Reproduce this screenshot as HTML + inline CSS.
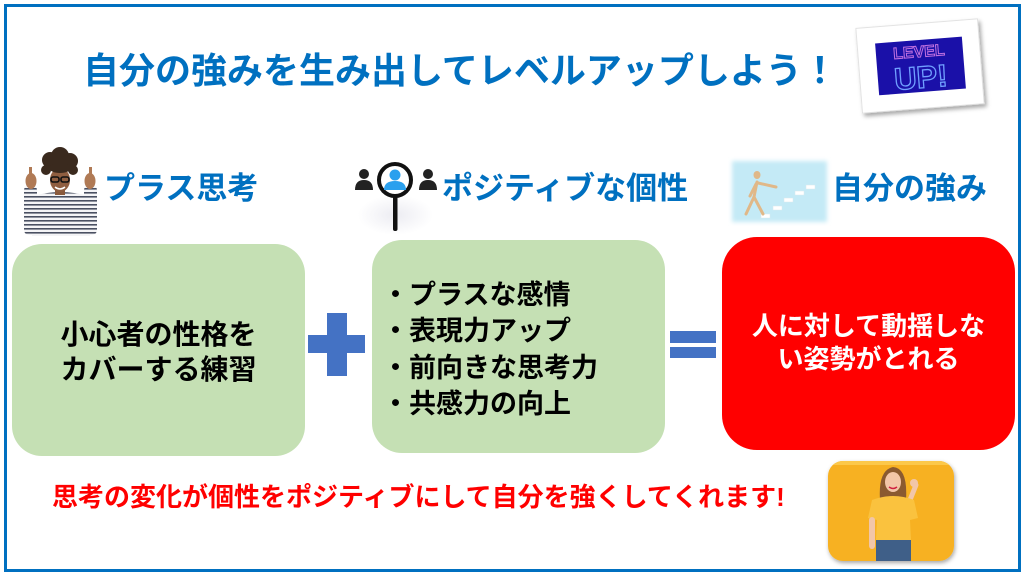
<!DOCTYPE html>
<html><head><meta charset="utf-8">
<style>
html,body{margin:0;padding:0;}
body{width:1024px;height:572px;position:relative;overflow:hidden;background:#fff;font-family:"Liberation Sans","Noto Sans CJK JP",sans-serif;font-weight:bold;}
.abs{position:absolute;}
.frame{left:4px;top:4px;width:1011px;height:562px;border:3px solid #0070C0;box-sizing:content-box;}
.title{top:51px;height:40px;line-height:40px;font-size:36px;color:#0070C0;white-space:nowrap;}
.h{font-size:31px;line-height:31px;color:#0070C0;white-space:nowrap;top:173px;}
.box{border-radius:30px;}
.t{white-space:nowrap;}
</style></head><body>
<div class="abs frame"></div>

<div class="abs title" style="left:83px;width:760px;">自分の強みを生み出してレベルアップしよう！</div>

<!-- LEVEL UP card -->
<svg class="abs" style="left:845px;top:10px" width="155" height="115" viewBox="845 10 155 115">
  <defs>
    <filter id="sh" x="-20%" y="-20%" width="140%" height="140%"><feDropShadow dx="2" dy="3" stdDeviation="2" flood-color="#000" flood-opacity="0.35"/></filter>
  </defs>
  <g transform="rotate(-4.5 920 66)">
    <rect x="859" y="23.5" width="122" height="85" fill="#fff" stroke="#ddd" stroke-width="0.8" filter="url(#sh)"/>
    <rect x="877" y="40" width="87" height="52" fill="#1a10a8"/>
    <text x="920" y="57" font-family="Liberation Sans" font-size="16" font-weight="bold" text-anchor="middle" fill="none" stroke="#c070e0" stroke-width="1">LEVEL</text>
    <text x="920" y="88" font-family="Liberation Sans" font-size="31" font-weight="bold" text-anchor="middle" fill="none" stroke="#70a0ff" stroke-width="1.3">UP!</text>
  </g>
</svg>

<!-- Person crossed fingers -->
<svg class="abs" style="left:18px;top:147px" width="85" height="95" viewBox="18 147 85 95">
  <defs>
    <pattern id="stripe" width="5" height="4" patternUnits="userSpaceOnUse"><rect width="5" height="4" fill="#f4f4f6"/><rect width="5" height="1.6" fill="#4a5062"/></pattern>
  </defs>
  <!-- arms -->
  <rect x="24" y="185" width="13" height="50" rx="5" fill="url(#stripe)"/>
  <rect x="84" y="185" width="13" height="50" rx="5" fill="url(#stripe)"/>
  <!-- hands -->
  <ellipse cx="31" cy="181" rx="5.5" ry="8" fill="#b07a55"/>
  <rect x="29" y="167" width="3" height="11" fill="#b07a55"/>
  <ellipse cx="90" cy="181" rx="5.5" ry="8" fill="#b07a55"/>
  <rect x="89" y="167" width="3" height="11" fill="#b07a55"/>
  <!-- body -->
  <path d="M34 196 Q60 188 88 196 L90 236 L32 236 Z" fill="url(#stripe)"/>
  <!-- neck/face -->
  <rect x="55" y="187" width="10" height="8" fill="#8a5a3c"/>
  <ellipse cx="60" cy="180" rx="10" ry="12" fill="#8f5e40"/>
  <!-- hair -->
  <circle cx="50" cy="160" r="8" fill="#3a2a1e"/>
  <circle cx="60" cy="156" r="9" fill="#3a2a1e"/>
  <circle cx="70" cy="161" r="8" fill="#3a2a1e"/>
  <circle cx="46" cy="170" r="5" fill="#3a2a1e"/>
  <circle cx="73" cy="170" r="5" fill="#3a2a1e"/>
  <ellipse cx="60" cy="168" rx="11" ry="5" fill="#3a2a1e"/>
  <!-- glasses -->
  <rect x="51" y="177" width="8" height="5" rx="2" fill="none" stroke="#111" stroke-width="1.6"/>
  <rect x="61" y="177" width="8" height="5" rx="2" fill="none" stroke="#111" stroke-width="1.6"/>
  <path d="M55 187 Q60 191 65 187" stroke="#fff" stroke-width="1.5" fill="none"/>
</svg>
<div class="abs h" style="left:104px;">プラス思考</div>

<!-- Magnifier icon -->
<svg class="abs" style="left:350px;top:158px" width="92" height="80" viewBox="350 158 92 80">
  <defs>
    <radialGradient id="glow" cx="50%" cy="50%" r="50%"><stop offset="0" stop-color="#ececf2"/><stop offset="1" stop-color="#fff"/></radialGradient>
  </defs>
  <rect x="358" y="195" width="75" height="40" fill="url(#glow)"/>
  <circle cx="364" cy="174" r="5" fill="#222"/>
  <path d="M355 190 Q355 180 364 180 Q373 180 373 190 Z" fill="#222"/>
  <circle cx="428" cy="174" r="5" fill="#222"/>
  <path d="M419 190 Q419 180 428 180 Q437 180 437 190 Z" fill="#222"/>
  <rect x="393" y="196" width="4.5" height="35" rx="2" fill="#111"/>
  <circle cx="395" cy="180" r="16" fill="#fff" stroke="#111" stroke-width="4"/>
  <circle cx="395" cy="175" r="5.5" fill="#2aa0ee"/>
  <path d="M384 190 Q384 181 395 181 Q406 181 406 190 Z" fill="#2aa0ee"/>
</svg>
<div class="abs h" style="left:442px;">ポジティブな個性</div>

<!-- Stairs image -->
<svg class="abs" style="left:728px;top:156px" width="104" height="70" viewBox="728 156 104 70">
  <defs>
    <filter id="blur"><feGaussianBlur stdDeviation="2"/></filter>
  </defs>
  <rect x="732" y="161" width="95" height="61" fill="#c4eaf6" filter="url(#blur)"/>
  <g fill="#fff" stroke="#d8e8ee" stroke-width="0.5">
    <rect x="761" y="214" width="9" height="4"/>
    <rect x="773" y="206" width="9" height="4"/>
    <rect x="784" y="198" width="9" height="4"/>
    <rect x="795" y="191" width="9" height="4"/>
    <rect x="806" y="185" width="9" height="4"/>
  </g>
  <g stroke="#e0b888" stroke-width="3" stroke-linecap="round" fill="none">
    <line x1="757" y1="182" x2="754" y2="197"/>
    <line x1="754" y1="197" x2="746" y2="214"/>
    <line x1="754" y1="197" x2="763" y2="214"/>
    <line x1="758" y1="183" x2="776" y2="187"/>
    <line x1="756" y1="184" x2="750" y2="196"/>
  </g>
  <ellipse cx="757" cy="175" rx="3.5" ry="4" fill="#e0b888"/>
</svg>
<div class="abs h" style="left:832px;">自分の強み</div>

<!-- Box 1 -->
<div class="abs box" style="left:12px;top:244px;width:293px;height:212px;background:#C5E0B4;"></div>
<div class="abs t" style="left:12px;top:317px;width:293px;text-align:center;font-size:28px;line-height:35px;color:#000;">小心者の性格を<br>カバーする練習</div>

<!-- Plus -->
<div class="abs" style="left:327px;top:313px;width:20px;height:63px;background:#4472C4;"></div>
<div class="abs" style="left:308px;top:335px;width:57px;height:18px;background:#4472C4;"></div>

<!-- Box 2 -->
<div class="abs box" style="left:372px;top:240px;width:293px;height:213px;background:#C5E0B4;"></div>
<div class="abs t" style="left:382px;top:277px;font-size:27px;line-height:36.3px;color:#000;">・プラスな感情<br>・表現力アップ<br>・前向きな思考力<br>・共感力の向上</div>

<!-- Equals -->
<div class="abs" style="left:670px;top:331px;width:46px;height:12px;background:#4472C4;"></div>
<div class="abs" style="left:670px;top:347px;width:46px;height:11px;background:#4472C4;"></div>

<!-- Red box -->
<div class="abs" style="left:722px;top:237px;width:293px;height:213px;background:#FF0000;border-radius:35px;"></div>
<div class="abs t" style="left:722px;top:310px;width:293px;text-align:center;font-size:26px;line-height:33px;color:#fff;">人に対して動揺しな<br>い姿勢がとれる</div>

<!-- Bottom text -->
<div class="abs t" style="left:52px;top:483px;font-size:26px;line-height:28px;color:#FF0000;">思考の変化が個性をポジティブにして自分を強くしてくれます!</div>

<!-- Woman image -->
<svg class="abs" style="left:820px;top:455px" width="145" height="115" viewBox="820 455 145 115">
  <defs>
    <filter id="sh2" x="-20%" y="-20%" width="140%" height="140%"><feDropShadow dx="1" dy="2" stdDeviation="2" flood-color="#000" flood-opacity="0.35"/></filter>
    <clipPath id="cp"><rect x="828" y="461" width="126" height="100" rx="15"/></clipPath>
  </defs>
  <rect x="828" y="461" width="126" height="100" rx="15" fill="#F7B124" filter="url(#sh2)"/>
  <g clip-path="url(#cp)">
    <rect x="828" y="461" width="126" height="4" fill="#fcc84a"/>
    <path d="M880 500 Q878 470 893 467 Q908 468 906 500 Z" fill="#8a5a30"/>
    <ellipse cx="893" cy="482" rx="8" ry="10" fill="#f2c6a8"/>
    <path d="M889 487 Q893 490 897 487" stroke="#d02040" stroke-width="1.5" fill="none"/>
    <path d="M910 500 L916 485" stroke="#f2c6a8" stroke-width="5" stroke-linecap="round"/>
    <circle cx="914" cy="483" r="4" fill="#f2c6a8"/>
    <path d="M872 500 Q893 492 914 500 L918 518 L910 520 L911 540 L876 540 L877 520 L868 518 Z" fill="#FAC23E"/>
    <rect x="869" y="517" width="6" height="32" rx="3" fill="#f2c6a8"/>
    <rect x="876" y="540" width="35" height="22" fill="#3f5f88"/>
  </g>
</svg>
</body></html>
